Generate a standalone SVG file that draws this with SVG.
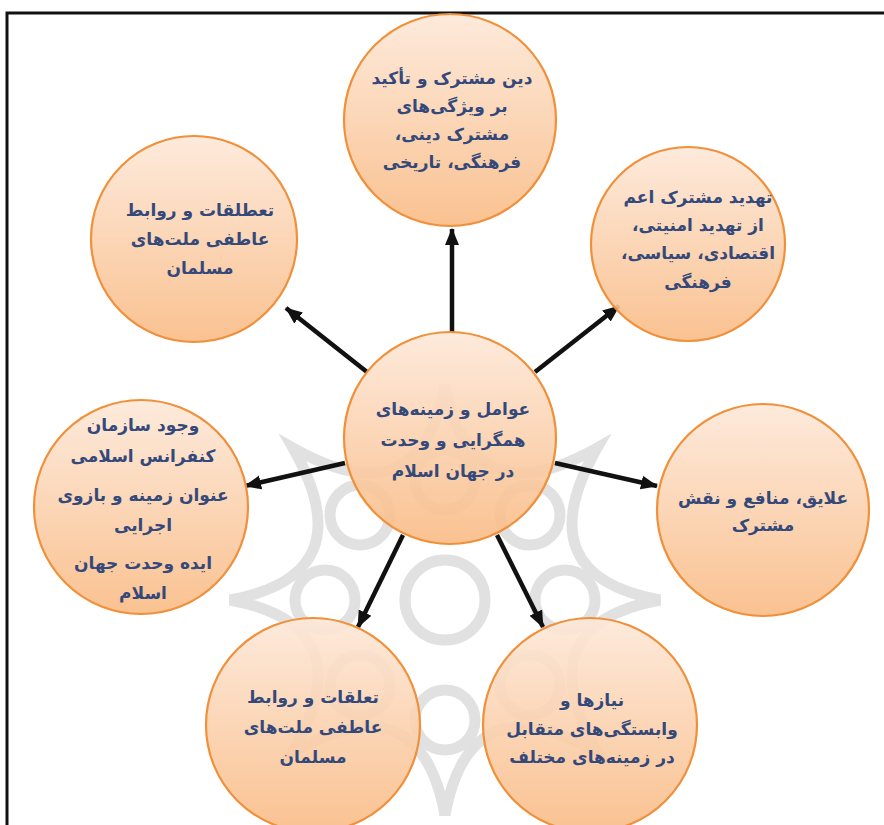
<svg xmlns="http://www.w3.org/2000/svg" width="884" height="825" viewBox="0 0 884 825">
<defs>
<linearGradient id="g" x1="0" y1="0" x2="0" y2="1">
<stop offset="0" stop-color="#fde8d8"/>
<stop offset="1" stop-color="#f9bb85"/>
</linearGradient>
<marker id="ah" markerUnits="userSpaceOnUse" markerWidth="17" markerHeight="16" viewBox="0 0 17 16" refX="16" refY="8" orient="auto">
<path d="M0,1 L17,8 L0,15 z" fill="#111"/>
</marker>
<style>
.c{fill:url(#g);fill-opacity:0.9;stroke:#f0903a;stroke-width:2.2}
.t{font-family:"DejaVu Sans",sans-serif;font-weight:bold;font-size:17px;fill:#34497a;text-anchor:middle;direction:rtl}
.a{stroke:#111;stroke-width:4.5;fill:none;marker-end:url(#ah)}
.w{fill:none;stroke:#bdbdbd;stroke-width:11}
</style>
</defs>
<rect x="0" y="0" width="884" height="825" fill="#fff"/>
<rect x="7" y="13" width="900" height="900" fill="none" stroke="#111" stroke-width="3"/>
<g id="watermark" opacity="0.45">
<path class="w" d="M445,385 Q470,520 597,448 Q525,575 660,600 Q525,625 597,752 Q470,680 445,815 Q420,680 293,752 Q365,625 230,600 Q365,575 293,448 Q420,520 445,385 Z"/>
<circle class="w" cx="445" cy="480" r="30"/>
<circle class="w" cx="530" cy="515" r="30"/>
<circle class="w" cx="565" cy="600" r="30"/>
<circle class="w" cx="530" cy="685" r="30"/>
<circle class="w" cx="445" cy="720" r="30"/>
<circle class="w" cx="360" cy="685" r="30"/>
<circle class="w" cx="325" cy="600" r="30"/>
<circle class="w" cx="360" cy="515" r="30"/>
<circle class="w" cx="445" cy="600" r="40"/>
</g>
<g id="connectors">
<line class="a" x1="452" y1="333" x2="452" y2="229"/>
<line class="a" x1="367" y1="372" x2="286" y2="308"/>
<line class="a" x1="535" y1="372" x2="619" y2="306"/>
<line class="a" x1="345" y1="463" x2="245" y2="486"/>
<line class="a" x1="555" y1="463" x2="657" y2="486"/>
<line class="a" x1="403" y1="535" x2="358" y2="627"/>
<line class="a" x1="497" y1="535" x2="543" y2="627"/>
</g>
<g id="n-top">
<circle class="c" cx="450" cy="120" r="106"/>
<text class="t" x="452" y="84">دین مشترک و تأکید</text>
<text class="t" x="452" y="112">بر ویژگی‌های</text>
<text class="t" x="452" y="140">مشترک دینی،</text>
<text class="t" x="452" y="168">فرهنگی، تاریخی</text>
</g>
<g id="n-topleft">
<circle class="c" cx="194" cy="239" r="103"/>
<text class="t" x="200" y="216">تعطلقات و روابط</text>
<text class="t" x="200" y="245">عاطفی ملت‌های</text>
<text class="t" x="200" y="274">مسلمان</text>
</g>
<g id="n-topright">
<circle class="c" cx="688" cy="244" r="97"/>
<text class="t" x="698" y="203">تهدید مشترک اعم</text>
<text class="t" x="698" y="231">از تهدید امنیتی،</text>
<text class="t" x="698" y="259">اقتصادی، سیاسی،</text>
<text class="t" x="698" y="288">فرهنگی</text>
</g>
<g id="n-center">
<circle class="c" cx="450" cy="438" r="106"/>
<text class="t" x="453" y="415">عوامل و زمینه‌های</text>
<text class="t" x="453" y="446">همگرایی و وحدت</text>
<text class="t" x="453" y="477">در جهان اسلام</text>
</g>
<g id="n-left">
<circle class="c" cx="141" cy="507" r="107"/>
<text class="t" x="143" y="431">وجود سازمان</text>
<text class="t" x="143" y="462">کنفرانس اسلامی</text>
<text class="t" x="143" y="501">عنوان زمینه و بازوی</text>
<text class="t" x="143" y="531">اجرایی</text>
<text class="t" x="143" y="569">ایده وحدت جهان</text>
<text class="t" x="143" y="599">اسلام</text>
</g>
<g id="n-right">
<circle class="c" cx="763" cy="510" r="106"/>
<text class="t" x="763" y="504">علایق، منافع و نقش</text>
<text class="t" x="763" y="531">مشترک</text>
</g>
<g id="n-bottomleft">
<circle class="c" cx="313" cy="725" r="107"/>
<text class="t" x="313" y="703">تعلقات و روابط</text>
<text class="t" x="313" y="733">عاطفی ملت‌های</text>
<text class="t" x="313" y="763">مسلمان</text>
</g>
<g id="n-bottomright">
<circle class="c" cx="590" cy="725" r="107"/>
<text class="t" x="592" y="706">نیازها و</text>
<text class="t" x="592" y="735">وابستگی‌های متقابل</text>
<text class="t" x="592" y="763">در زمینه‌های مختلف</text>
</g>
</svg>
